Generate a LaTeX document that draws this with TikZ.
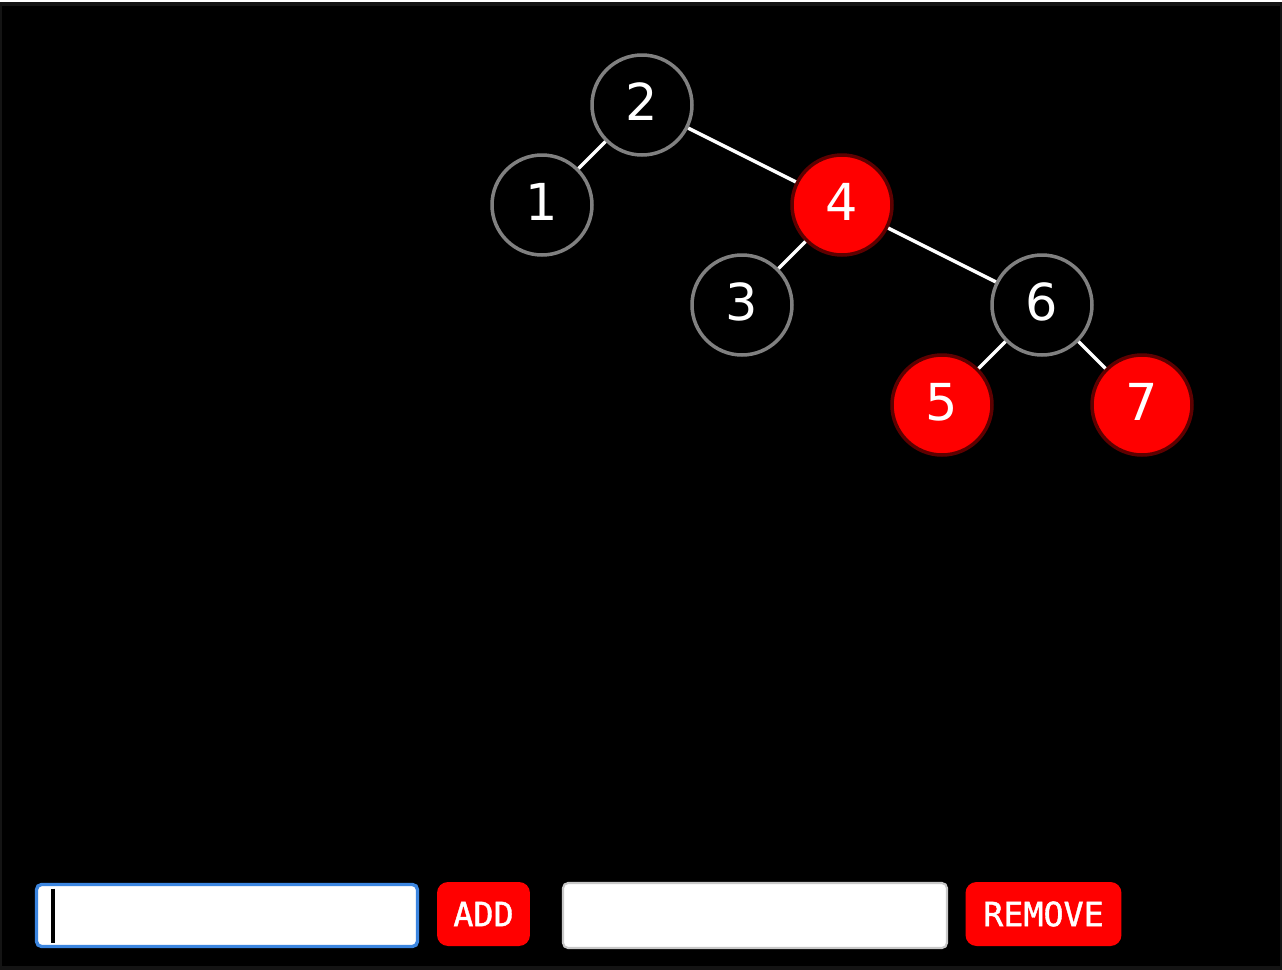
\documentclass[tikz,border=0pt]{standalone}
\usepackage{fontspec}
\setmainfont{DejaVu Sans}
\newfontfamily\btnfont[FakeBold=1.2]{DejaVu Sans Mono}
\definecolor{ringgray}{HTML}{808080}
\definecolor{ringred}{HTML}{5E0000}
\definecolor{fieldblue}{HTML}{3C86E0}
\definecolor{fieldgray}{HTML}{C8C8C8}
\definecolor{framegray}{HTML}{141414}

\begin{document}
\begin{tikzpicture}[x=0.02cm, y=-0.02cm,
    blacknode/.style={circle, draw=ringgray, fill=black, line width=2pt,
        minimum size=2cm, inner sep=0pt, text=white, text depth=0.14cm,
        font=\fontsize{29}{29}\selectfont},
    rednode/.style={blacknode, draw=ringred, fill=red},
    treeedge/.style={white, line width=2pt},
    field/.style={rectangle, fill=white, rounded corners=0.1cm, inner sep=0pt},
    button/.style={rectangle, fill=red, rounded corners=0.22cm, inner sep=0pt,
        minimum height=1.28cm, text=white, font=\btnfont\fontsize{19}{19}\selectfont}]
    \useasboundingbox (0,0) rectangle (1282,970);

    % Window
    \fill[framegray] (0,0) rectangle (1282,970);
    \fill[white] (0,0) rectangle (1282,2);
    \fill[black] (2,6) rectangle (1280,966);

    % Tree nodes
    \foreach \n/\x/\y/\s in {2/642/105/blacknode, 1/542/205/blacknode,
        4/842/205/rednode, 3/742/305/blacknode, 6/1042/305/blacknode,
        5/942/405/rednode, 7/1142/405/rednode} {
        \node[\s] (n\n) at (\x,\y) {\n};
    }

    % Tree edges
    \foreach \a/\b in {2/1, 2/4, 4/3, 4/6, 6/5, 6/7} {
        \draw[treeedge] (n\a) -- (n\b);
    }

    % Controls
    \node[field, draw=fieldblue, line width=1.9pt, minimum width=7.62cm, minimum height=1.24cm]
        (addfield) at (227,915.5) {};
    \draw[black, line width=2.2pt] ([xshift=0.36cm, yshift=0.54cm]addfield.west)
        -- ([xshift=0.36cm, yshift=-0.54cm]addfield.west);
    \node[button, minimum width=1.86cm] (addbtn) at (483.5,914) {ADD};
    \node[field, draw=fieldgray, line width=1.2pt, minimum width=7.68cm, minimum height=1.3cm]
        (removefield) at (755,915.5) {};
    \node[button, minimum width=3.12cm] (removebtn) at (1043.5,914) {REMOVE};

\end{tikzpicture}
\end{document}
